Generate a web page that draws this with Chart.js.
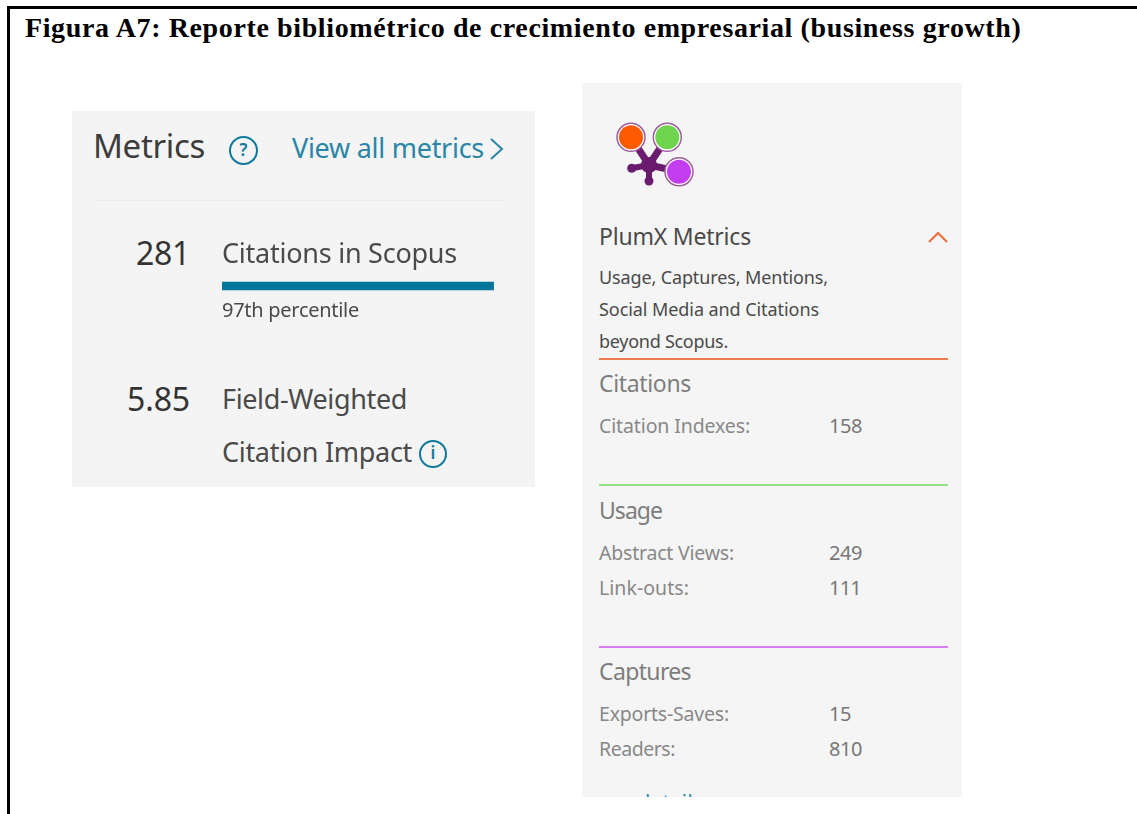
<!DOCTYPE html>
<html lang="es">
<head>
<meta charset="utf-8">
<title>Figura A7</title>
<script src="https://cdn.jsdelivr.net/npm/chart.js@4"></script>
<style>
  html, body { margin: 0; padding: 0; background: #fff; }
  #page { position: relative; width: 1137px; height: 814px; overflow: hidden; background: #fff; }
  .frameTop { position: absolute; left: 7px; top: 6px; width: 1130px; height: 2.5px; background: #000; }
  .frameLeft { position: absolute; left: 7px; top: 6px; width: 2.5px; height: 808px; background: #000; }
  .panel { position: absolute; background: #f4f4f4; overflow: hidden; }
  #left { left: 72px; top: 111px; width: 463px; height: 376px; }
  #right { left: 582px; top: 83px; width: 380px; height: 714px; background: #f5f5f5; }
  .t { position: absolute; white-space: nowrap; font-family: "Noto Sans", sans-serif; }
  .rule { position: absolute; left: 17px; width: 349px; height: 2px; }
  .icon { position: absolute; border-radius: 50%; border: 2.5px solid #0f7a9c; color: #0f7a9c; box-sizing: border-box;
          text-align: center; font-family: "Noto Sans", sans-serif; font-weight: 600; }
  canvas { position: absolute; }
  svg { position: absolute; }
</style>
</head>
<body>
<div id="page">
  <div class="frameTop"></div>
  <div class="frameLeft"></div>
  <div class="panel" id="left">
    <div style="position:absolute;left:21px;top:88.5px;width:411px;height:1px;background:#ececec"></div>
    <div class="icon" style="left:157px;top:25px;width:29px;height:29px;font-size:17px;line-height:23px">?</div>
    <div class="icon" style="left:347px;top:329px;width:28px;height:28px;font-size:17px;line-height:22px">i</div>
    <svg style="left:415px;top:26px" width="20" height="24"><path d="M4 2 L15 12 L4 22" fill="none" stroke="#2a86a8" stroke-width="2"/></svg>
    <canvas id="percentileBar" width="280" height="12" style="left:150px;top:169px"></canvas>
  </div>
  <div class="panel" id="right">
    <canvas id="plumLogo" width="100" height="90" style="left:23px;top:27px"></canvas>
    <svg style="left:345px;top:146px" width="22" height="16"><path d="M2 13 L11 4 L20 13" fill="none" stroke="#f26a3c" stroke-width="2"/></svg>
    <div class="rule" style="top:275px;background:#ee7a50"></div>
    <div class="rule" style="top:401px;background:#97e088"></div>
    <div class="rule" style="top:563px;background:#d67df0"></div>
  </div>
</div>
<script>
// values
const citationCount = [281];
const percentile = [97];
const fieldWeighted = [5.85];
const plumCategories = ['Citation Indexes', 'Abstract Views', 'Link-outs', 'Exports-Saves', 'Readers'];
const plumValues = [158, 249, 111, 15, 810];

// plum logo, nodes and arms
const logoNodeX = [26, 62.3, 74];
const logoNodeY = [27.3, 27.3, 61.7];
const logoColors = ['#ff5a00', '#6fd44e', '#c23cf0'];
const logoHubX = [44];
const logoHubY = [55];
const logoStubX = [26.7, 44];
const logoStubY = [58.3, 71];

const measure = document.createElement('canvas').getContext('2d');

// x and baseline are page pixels, width is the width of the text in the reference
function put(parent, text, x, base, size, color, width, family, weight) {
  const fam = family || '"Noto Sans"';
  const font = (weight || 'normal') + ' ' + size + 'px ' + fam;
  measure.font = font;
  const m = measure.measureText(text);
  const box = parent.getBoundingClientRect();
  const el = document.createElement('div');
  el.className = 't';
  el.textContent = text;
  el.style.font = font;
  el.style.lineHeight = 'normal';
  el.style.color = color;
  el.style.left = (x - box.left) + 'px';
  el.style.top = (base - box.top - m.fontBoundingBoxAscent) + 'px';
  if (width) el.style.letterSpacing = ((width - m.width) / text.length) + 'px';
  parent.appendChild(el);
}

const page = document.getElementById('page');
const left = document.getElementById('left');
const right = document.getElementById('right');

put(page, 'Figura A7: Reporte bibliométrico de crecimiento empresarial (business growth)', 25, 37, 28, '#000', 998, '"Liberation Serif"', 'bold');

put(left, 'Metrics', 93, 158, 33, '#3c3c3c', 112);
put(left, 'View all metrics', 292, 158, 27, '#2a86a8', 192);
put(left, String(citationCount[0]), 136, 265, 32, '#333', 54);
put(left, 'Citations in Scopus', 222, 263, 27, '#4a4a4a', 235);
put(left, percentile[0] + 'th percentile', 222, 317, 20, '#4a4a4a', 137);
put(left, fieldWeighted[0].toFixed(2), 127, 411, 32, '#333', 63);
put(left, 'Field-Weighted', 222, 409, 27, '#4a4a4a', 185);
put(left, 'Citation Impact', 222, 462, 27, '#4a4a4a', 190);

put(right, 'PlumX Metrics', 599, 245, 23, '#4a4a4a', 152);
put(right, 'Usage, Captures, Mentions,', 599, 284, 18, '#4a4a4a', 229);
put(right, 'Social Media and Citations', 599, 316, 18, '#4a4a4a', 220);
put(right, 'beyond Scopus.', 599, 348, 18, '#4a4a4a', 129);

const gray = '#7d7d7d';
put(right, 'Citations', 599, 392, 23, gray, 92);
put(right, 'Usage', 599, 519, 23, gray, 63);
put(right, 'Captures', 599, 680, 23, gray, 92);

const rowBase = [433, 560, 595, 721, 756];
const rowWidth = [151, 135, 90, 130, 76];
const numWidth = [33, 33, 32, 22, 33];
plumCategories.forEach(function (name, i) {
  put(right, name + ':', 599, rowBase[i], 19.5, '#888', rowWidth[i]);
  put(right, String(plumValues[i]), 829, rowBase[i], 20, '#777', numWidth[i]);
});
// only the ascenders of this link show in the reference, the panel cuts the rest
put(right, 'see details', 599, 809, 20, '#2a7fb5', 104);

new Chart(document.getElementById('percentileBar'), {
  type: 'bar',
  data: {
    labels: ['Citations in Scopus'],
    datasets: [{ data: percentile, backgroundColor: '#00769b', barThickness: 8, borderWidth: 0 }]
  },
  options: {
    indexAxis: 'y',
    responsive: false,
    animation: false,
    layout: { padding: 0 },
    plugins: { legend: { display: false }, tooltip: { enabled: false } },
    scales: {
      x: { display: false, min: 0, max: 100 },
      y: { display: false }
    }
  }
});

const purple = '#6a1b6e';
function toPoints(xs, ys) {
  return xs.map(function (x, i) { return { x: x, y: ys[i] }; });
}
function arm(x, y, width) {
  return {
    data: [{ x: logoHubX[0], y: logoHubY[0] }, { x: x, y: y }],
    showLine: true, borderColor: purple, borderWidth: width, borderCapStyle: 'round',
    pointRadius: 0, order: 5
  };
}

new Chart(document.getElementById('plumLogo'), {
  type: 'scatter',
  data: {
    datasets: [
      { label: 'nodes', data: toPoints(logoNodeX, logoNodeY), backgroundColor: logoColors, pointRadius: 12, borderWidth: 0, order: 1 },
      { label: 'rings', data: toPoints(logoNodeX, logoNodeY), backgroundColor: '#fff', borderColor: '#9c5f9e', borderWidth: 1.5, pointRadius: 14, order: 2 },
      { label: 'hub', data: toPoints(logoHubX, logoHubY), backgroundColor: purple, pointRadius: 8, borderWidth: 0, order: 4 },
      { label: 'stubs', data: toPoints(logoStubX, logoStubY), backgroundColor: purple, pointRadius: 4.5, borderWidth: 0, order: 4 },
      arm(logoNodeX[0], logoNodeY[0], 7),
      arm(logoNodeX[1], logoNodeY[1], 7),
      arm(logoNodeX[2], logoNodeY[2], 7),
      arm(logoStubX[0], logoStubY[0], 6),
      arm(logoStubX[1], logoStubY[1], 6)
    ]
  },
  options: {
    responsive: false,
    animation: false,
    layout: { padding: 0, autoPadding: false },
    plugins: { legend: { display: false }, tooltip: { enabled: false } },
    scales: {
      x: { display: false, min: 0, max: 100 },
      y: { display: false, min: 0, max: 90, reverse: true }
    }
  }
});
</script>
</body>
</html>
